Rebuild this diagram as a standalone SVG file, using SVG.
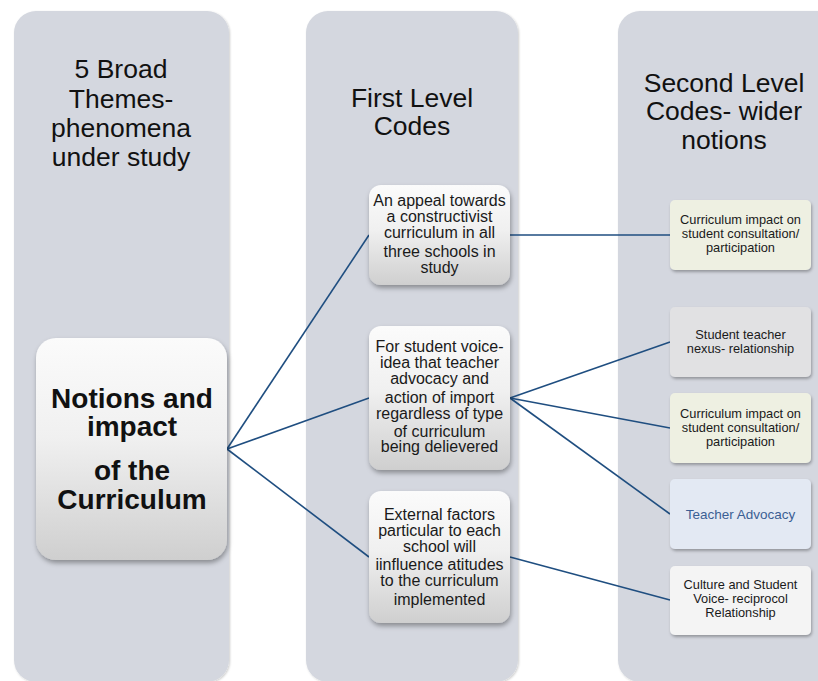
<svg xmlns="http://www.w3.org/2000/svg" width="818" height="681" viewBox="0 0 818 681">
<defs>
<linearGradient id="gw" x1="0" y1="0" x2="0" y2="1">
<stop offset="0" stop-color="#fbfbfb"/>
<stop offset="0.45" stop-color="#f0f0f0"/>
<stop offset="1" stop-color="#cfcfcf"/>
</linearGradient>
<filter id="sh" x="-20%" y="-20%" width="140%" height="140%">
<feDropShadow dx="1" dy="3" stdDeviation="2.5" flood-color="#000" flood-opacity="0.35"/>
</filter>
<filter id="sh2" x="-20%" y="-20%" width="140%" height="140%">
<feDropShadow dx="1" dy="2" stdDeviation="1.8" flood-color="#000" flood-opacity="0.3"/>
</filter>
<filter id="sh3" x="-10%" y="-10%" width="120%" height="120%">
<feDropShadow dx="1" dy="1" stdDeviation="1" flood-color="#000" flood-opacity="0.2"/>
</filter>
</defs>
<style>
.col{fill:#d4d7df;filter:url(#sh3);}
.hd{font-family:"Liberation Sans",Arial,sans-serif;font-size:26.5px;fill:#111;text-anchor:middle;}
.n1{fill:url(#gw);filter:url(#sh);}
.t1{font-family:"Liberation Sans",Arial,sans-serif;font-size:16px;fill:#1a1a1a;text-anchor:middle;}
.t2{font-family:"Liberation Sans",Arial,sans-serif;font-size:12.8px;fill:#1a1a1a;text-anchor:middle;}
.n2{filter:url(#sh2);}
.c{stroke:#1f4e80;stroke-width:1.6;fill:none;}
</style>
<rect width="818" height="681" fill="#ffffff"/>
<g id="columns">
<rect class="col" x="14" y="11" width="215" height="671" rx="22"/>
<rect class="col" x="306" y="11" width="212" height="671" rx="22"/>
<rect class="col" x="618" y="11" width="230" height="671" rx="22"/>
<text class="hd" x="121" y="78">5 Broad</text>
<text class="hd" x="121" y="108">Themes-</text>
<text class="hd" x="121" y="137">phenomena</text>
<text class="hd" x="121" y="166">under study</text>
<text class="hd" x="412" y="107">First Level</text>
<text class="hd" x="412" y="135">Codes</text>
<text class="hd" x="724" y="92">Second Level</text>
<text class="hd" x="724" y="120">Codes- wider</text>
<text class="hd" x="724" y="149">notions</text>
</g>
<g id="connectors">
<line class="c" x1="227" y1="449" x2="369" y2="235"/>
<line class="c" x1="227" y1="449" x2="369" y2="398"/>
<line class="c" x1="227" y1="449" x2="369" y2="557"/>
<line class="c" x1="510" y1="235" x2="670" y2="235"/>
<line class="c" x1="510" y1="398" x2="670" y2="342"/>
<line class="c" x1="510" y1="398" x2="670" y2="428"/>
<line class="c" x1="510" y1="398" x2="670" y2="514"/>
<line class="c" x1="510" y1="557" x2="670" y2="600"/>
</g>
<g id="center">
<rect class="n1" x="36" y="338" width="191" height="222" rx="20"/>
<g font-family="'Liberation Sans',Arial,sans-serif" font-size="28" font-weight="bold" fill="#111" text-anchor="middle">
<text x="132" y="408">Notions and</text>
<text x="132" y="436">impact</text>
<text x="132" y="480">of the</text>
<text x="132" y="509">Curriculum</text>
</g>
</g>
<g id="fA">
<rect class="n1" x="369" y="185" width="141" height="100" rx="12"/>
<text class="t1" x="439.5" y="206">An appeal towards</text>
<text class="t1" x="439.5" y="222">a constructivist</text>
<text class="t1" x="439.5" y="237.5">curriculum in all</text>
<text class="t1" x="439.5" y="257">three schools in</text>
<text class="t1" x="439.5" y="273">study</text>
</g>
<g id="fB">
<rect class="n1" x="369" y="326" width="141" height="144" rx="12"/>
<text class="t1" x="439.5" y="352">For student voice-</text>
<text class="t1" x="439.5" y="368">idea that teacher</text>
<text class="t1" x="439.5" y="384">advocacy and</text>
<text class="t1" x="439.5" y="403">action of import</text>
<text class="t1" x="439.5" y="419">regardless of type</text>
<text class="t1" x="439.5" y="436.5">of curriculum</text>
<text class="t1" x="439.5" y="452">being delievered</text>
</g>
<g id="fC">
<rect class="n1" x="369" y="491" width="141" height="132" rx="12"/>
<text class="t1" x="439.5" y="520">External factors</text>
<text class="t1" x="439.5" y="536">particular to each</text>
<text class="t1" x="439.5" y="552">school will</text>
<text class="t1" x="439.5" y="570">iinfluence atitudes</text>
<text class="t1" x="439.5" y="585.5">to the curriculum</text>
<text class="t1" x="439.5" y="604.5">implemented</text>
</g>
<g id="s1">
<rect class="n2" x="670" y="200" width="141" height="70" rx="5" fill="#eef0e2"/>
<text class="t2" x="740.5" y="224">Curriculum impact on</text>
<text class="t2" x="740.5" y="238">student consultation/</text>
<text class="t2" x="740.5" y="252">participation</text>
</g>
<g id="s2">
<rect class="n2" x="670" y="307" width="141" height="70" rx="5" fill="#e1e1e3"/>
<text class="t2" x="740.5" y="339">Student teacher</text>
<text class="t2" x="740.5" y="353">nexus- relationship</text>
</g>
<g id="s3">
<rect class="n2" x="670" y="393" width="141" height="70" rx="5" fill="#eef0e2"/>
<text class="t2" x="740.5" y="418">Curriculum impact on</text>
<text class="t2" x="740.5" y="432">student consultation/</text>
<text class="t2" x="740.5" y="446">participation</text>
</g>
<g id="s4">
<rect class="n2" x="670" y="479" width="141" height="70" rx="5" fill="#e3e9f3"/>
<text class="t2" x="740.5" y="519" style="fill:#3b5f94;font-size:13.5px">Teacher Advocacy</text>
</g>
<g id="s5">
<rect class="n2" x="670" y="566" width="141" height="69" rx="5" fill="#f4f4f4"/>
<text class="t2" x="740.5" y="589">Culture and Student</text>
<text class="t2" x="740.5" y="603">Voice- reciprocol</text>
<text class="t2" x="740.5" y="617">Relationship</text>
</g>
</svg>
